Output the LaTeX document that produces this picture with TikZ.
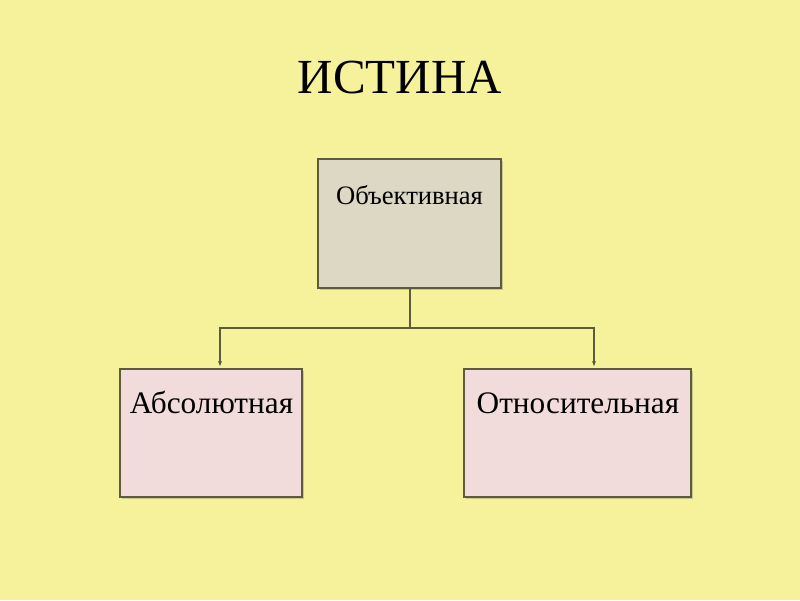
\documentclass[tikz,border=0pt]{standalone}
\usepackage{fontspec}
\setmainfont{Liberation Serif}
\usetikzlibrary{arrows.meta,shadows}
\definecolor{bg}{HTML}{F6F29C}
\definecolor{topfill}{HTML}{DDD8C3}
\definecolor{botfill}{HTML}{F2DCDB}
\definecolor{edge}{HTML}{5E5A3C}
\tikzset{
  box/.style={draw=edge, line width=1.3pt, rectangle, inner sep=0pt,
    drop shadow={shadow xshift=1.5pt, shadow yshift=-1.5pt, opacity=0.3, fill=black!60}},
  conn/.style={draw=edge, line width=1.2pt},
  tip/.style={-{Stealth[length=5pt,width=4pt]}}
}
\begin{document}
\begin{tikzpicture}[x=1pt,y=-1pt]
\fill[bg] (0,0) rectangle (800,600);
\useasboundingbox (0,0) rectangle (800,600);
\node[anchor=base, font=\fontsize{49}{56}\selectfont] (title) at (400,93) {ИСТИНА};
\node[box, fill=topfill, minimum width=183pt, minimum height=129pt] (obj) at (409.5,223.5) {};
\node[box, fill=botfill, minimum width=182pt, minimum height=128pt] (abs) at (211,433) {};
\node[box, fill=botfill, minimum width=227pt, minimum height=128pt] (rel) at (577.5,433) {};
\node[anchor=base, font=\fontsize{26.6}{32}\selectfont] (objt) at (409.5,204) {Объективная};
\node[anchor=base, font=\fontsize{31.3}{37}\selectfont] (abst) at (211.5,413) {Абсолютная};
\node[anchor=base, font=\fontsize{31.3}{37}\selectfont] (relt) at (578,413) {Относительная};
\coordinate (j) at (410,328);
\coordinate (la) at (220,366);
\coordinate (ra) at (594,366);
\draw[conn] (obj.south -| j) -- (j);
\draw[conn, tip] (j) -| (la);
\draw[conn, tip] (j) -| (ra);
\end{tikzpicture}
\end{document}
